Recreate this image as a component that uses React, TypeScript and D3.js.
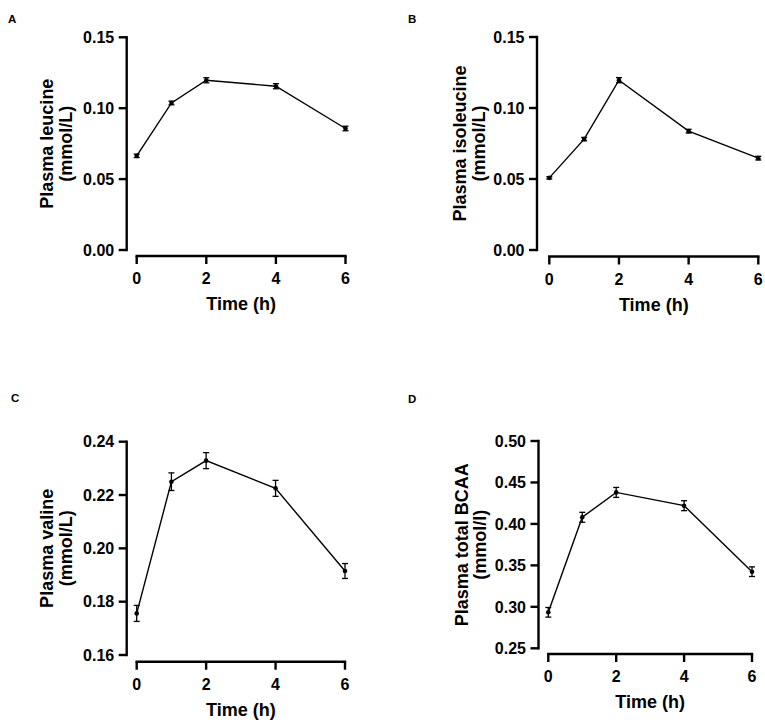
import React from "react";
import * as d3 from "d3";

const times = [0, 1, 2, 4, 6];
const xTicks = [0, 2, 4, 6];

const leucine = [0.0664, 0.1037, 0.1197, 0.1155, 0.0857];
const leucineErr = [0.0012, 0.0013, 0.0018, 0.0018, 0.0016];
const isoleucine = [0.0508, 0.0781, 0.1196, 0.0837, 0.0647];
const isoleucineErr = [0.0008, 0.0012, 0.0018, 0.0013, 0.0013];
const valine = [0.1756, 0.225, 0.2329, 0.2225, 0.1915];
const valineErr = [0.003, 0.0033, 0.003, 0.003, 0.0028];
const bcaa = [0.2934, 0.408, 0.438, 0.422, 0.3424];
const bcaaErr = [0.0058, 0.006, 0.006, 0.006, 0.0058];

const ticksAB = [0, 0.05, 0.1, 0.15];
const ticksC = [0.16, 0.18, 0.2, 0.22, 0.24];
const ticksD = [0.25, 0.3, 0.35, 0.4, 0.45, 0.5];

const FONT = "'Liberation Sans', Arial, Helvetica, sans-serif";
const fmt = d3.format(".2f");

type PanelProps = {
  letter: string;
  letterX: number;
  letterY: number;
  values: number[];
  errs: number[];
  yTicks: number[];
  title1: string;
  title2: string;
  axisX: number;
  yTop: number;
  yBottom: number;
  xAxisY: number;
  xLeft: number;
  xRight: number;
  titleX1: number;
  titleX2: number;
};

function Panel(p: PanelProps) {
  const x = d3.scaleLinear().domain([0, 6]).range([p.xLeft, p.xRight]);
  const yDomain = d3.extent(p.yTicks) as [number, number];
  const y = d3.scaleLinear().domain(yDomain).range([p.yBottom, p.yTop]);
  const line = d3
    .line<number>()
    .x((_, i) => x(times[i]))
    .y((d) => y(d));
  const tickLen = 8;
  const cap = 3;
  const yMid = (p.yTop + p.yBottom) / 2;
  const xMid = (p.xLeft + p.xRight) / 2;
  return (
    <g fontFamily={FONT} fontWeight="bold" fill="#000">
      <text x={p.letterX} y={p.letterY} fontSize={11.5}>
        {p.letter}
      </text>
      <line x1={p.axisX} x2={p.axisX} y1={p.yTop} y2={p.yBottom} stroke="#000" strokeWidth={2.4} strokeLinecap="square" />
      {p.yTicks.map((t) => (
        <g key={t}>
          <line x1={p.axisX - tickLen} x2={p.axisX} y1={y(t)} y2={y(t)} stroke="#000" strokeWidth={2.4} />
          <text x={p.axisX - 12.5} y={y(t)} dy="0.36em" textAnchor="end" fontSize={16}>
            {fmt(t)}
          </text>
        </g>
      ))}
      <line x1={p.xLeft} x2={p.xRight} y1={p.xAxisY} y2={p.xAxisY} stroke="#000" strokeWidth={2.4} strokeLinecap="square" />
      {xTicks.map((t) => (
        <g key={t}>
          <line x1={x(t)} x2={x(t)} y1={p.xAxisY} y2={p.xAxisY + tickLen} stroke="#000" strokeWidth={2.4} />
          <text x={x(t)} y={p.xAxisY + 28} textAnchor="middle" fontSize={16}>
            {t}
          </text>
        </g>
      ))}
      <text x={xMid} y={p.xAxisY + 54} textAnchor="middle" fontSize={18}>
        Time (h)
      </text>
      <text transform="rotate(-90)" x={-yMid} y={p.titleX1} textAnchor="middle" fontSize={18}>
        {p.title1}
      </text>
      <text transform="rotate(-90)" x={-yMid} y={p.titleX2} textAnchor="middle" fontSize={18}>
        {p.title2}
      </text>
      <path d={line(p.values) || ""} fill="none" stroke="#000" strokeWidth={1.4} />
      {p.values.map((v, i) => {
        const cx = x(times[i]);
        const lo = y(v - p.errs[i]);
        const hi = y(v + p.errs[i]);
        return (
          <g key={i} stroke="#000" strokeWidth={1.3}>
            <line x1={cx} x2={cx} y1={lo} y2={hi} />
            <line x1={cx - cap} x2={cx + cap} y1={lo} y2={lo} />
            <line x1={cx - cap} x2={cx + cap} y1={hi} y2={hi} />
            <circle cx={cx} cy={y(v)} r={2.3} fill="#000" stroke="none" />
          </g>
        );
      })}
    </g>
  );
}

export default function App() {
  return (
    <svg
      width={765}
      height={723}
      style={{ position: "absolute", left: 0, top: 0, background: "#fff" }}
    >
      <rect width={765} height={723} fill="#fff" />
      <Panel
        letter="A" letterX={8} letterY={23}
        values={leucine} errs={leucineErr} yTicks={ticksAB}
        title1="Plasma leucine" title2="(mmol/L)"
        axisX={126.7} yTop={37.3} yBottom={250}
        xAxisY={256} xLeft={136.7} xRight={345.5}
        titleX1={53} titleX2={72}
      />
      <Panel
        letter="B" letterX={408} letterY={23}
        values={isoleucine} errs={isoleucineErr} yTicks={ticksAB}
        title1="Plasma isoleucine" title2="(mmol/L)"
        axisX={537} yTop={37} yBottom={250}
        xAxisY={256.5} xLeft={549.3} xRight={758.3}
        titleX1={466} titleX2={485}
      />
      <Panel
        letter="C" letterX={11} letterY={402}
        values={valine} errs={valineErr} yTicks={ticksC}
        title1="Plasma valine" title2="(mmol/L)"
        axisX={126.7} yTop={441.7} yBottom={655}
        xAxisY={661.7} xLeft={136.7} xRight={345}
        titleX1={53} titleX2={72}
      />
      <Panel
        letter="D" letterX={408} letterY={402.5}
        values={bcaa} errs={bcaaErr} yTicks={ticksD}
        title1="Plasma total BCAA" title2="(mmol/l)"
        axisX={538.5} yTop={441} yBottom={648.3}
        xAxisY={654} xLeft={548.3} xRight={752}
        titleX1={468} titleX2={486}
      />
    </svg>
  );
}
